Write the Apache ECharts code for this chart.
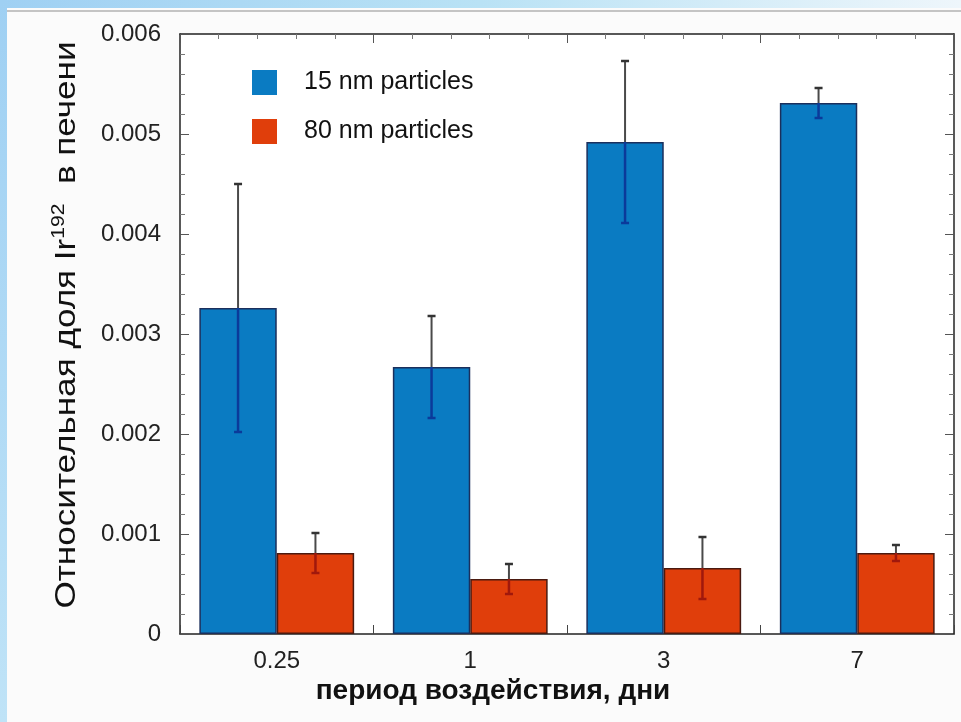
<!DOCTYPE html>
<html>
<head>
<meta charset="utf-8">
<script src="https://cdn.jsdelivr.net/npm/echarts@6/dist/echarts.min.js"></script>
<style>
html,body{margin:0;padding:0;background:#fbfbfb;}
#c{width:961px;height:722px;}
</style>
</head>
<body>
<div id="c"></div>
<script>
const categories = ['0.25', '1', '3', '7'];
const seriesNames = ['15 nm particles', '80 nm particles'];
const values15 = [0.00326, 0.00267, 0.00492, 0.00531];
const errors15 = [0.00124, 0.00051, 0.00081, 0.00015];
const values80 = [0.00081, 0.00055, 0.00066, 0.00081];
const errors80 = [0.00020, 0.00015, 0.00031, 0.00008];
const yTicks = [0, 0.001, 0.002, 0.003, 0.004, 0.005, 0.006];
const yTitle = ['Относительная доля Ir', '192', '  в печени'];
const xTitle = 'период воздействия, дни';

const BLUE = '#0a7bc2';
const RED = '#e03e0b';
const FONT = '"Liberation Sans", Arial, sans-serif';

const errData = [];
values15.forEach((v, i) => errData.push([i, v, v - errors15[i], v + errors15[i], 0]));
values80.forEach((v, i) => errData.push([i, v, v - errors80[i], v + errors80[i], 1]));

const chart = echarts.init(document.getElementById('c'), null, {renderer: 'canvas'});

const axisLabelFmt = v => (v === 0 ? '0' : v.toFixed(3));

const option = {
  backgroundColor: '#fbfbfb',
  animation: false,
  graphic: [
    {type: 'rect', left: 0, top: 0, z: -10, shape: {width: 961, height: 8},
     style: {fill: new echarts.graphic.LinearGradient(0, 0, 1, 0, [
       {offset: 0, color: '#9fd0f3'}, {offset: 0.5, color: '#b9e2f5'}, {offset: 1, color: '#eef6fb'}])}},
    {type: 'rect', left: 0, top: 10, z: -10, shape: {width: 961, height: 2}, style: {fill: '#c4c4c4'}},
    {type: 'rect', left: 0, top: 0, z: -9, shape: {width: 7, height: 722},
     style: {fill: new echarts.graphic.LinearGradient(0, 0, 0, 1, [
       {offset: 0, color: '#9fd0f3'}, {offset: 1, color: '#bfe3f7'}])}},
    {type: 'text', x: 493, y: 691, z: 10,
     style: {text: xTitle, fill: '#111', align: 'center', verticalAlign: 'middle',
             font: 'bold 28px "Liberation Sans", Arial, sans-serif'}},
    {type: 'text', x: 67, y: 325, z: 10, rotation: Math.PI / 2, scaleX: 1.17, scaleY: 1,
     style: {
       text: '{a|' + yTitle[0] + '}{s|' + yTitle[1] + '}{a|' + yTitle[2] + '}',
       align: 'center', verticalAlign: 'middle',
       rich: {
         a: {fontSize: 30, lineHeight: 34, fill: '#111', fontFamily: FONT},
         s: {fontSize: 18, lineHeight: 16, verticalAlign: 'top', fill: '#111', fontFamily: FONT}
       }
     }}
  ],
  grid: {left: 180, right: 7, top: 34, bottom: 88, show: true, backgroundColor: '#ffffff', borderWidth: 0},
  legend: {
    data: seriesNames,
    orient: 'vertical',
    left: 252, top: 70, padding: 0,
    itemWidth: 25, itemHeight: 25, itemGap: 24,
    icon: 'rect',
    itemStyle: {borderWidth: 0},
    textStyle: {fontSize: 25, color: '#111', fontFamily: FONT, padding: [0, 0, 0, 22]}
  },
  xAxis: [
    {
      type: 'category', data: categories, position: 'bottom',
      axisLine: {onZero: false, lineStyle: {color: '#222', width: 1.5}},
      axisTick: {show: true, inside: true, length: 9, lineStyle: {color: '#444', width: 1}},
      axisLabel: {fontSize: 24, color: '#222', margin: 15, fontFamily: FONT},
      splitLine: {show: false}
    },
    {
      type: 'value', min: 0, max: 4, interval: 1, position: 'top',
      axisLine: {show: true, onZero: false, lineStyle: {color: '#222', width: 1.5}},
      axisTick: {show: true, inside: true, length: 9, lineStyle: {color: '#555', width: 1}},
      minorTick: {show: true, splitNumber: 5, length: 5, lineStyle: {color: '#777', width: 1}},
      axisLabel: {show: false},
      splitLine: {show: false}, minorSplitLine: {show: false}
    }
  ],
  yAxis: [
    {
      type: 'value', min: 0, max: 0.006, interval: 0.001, position: 'left',
      axisLine: {show: true, onZero: false, lineStyle: {color: '#222', width: 1.5}},
      axisTick: {show: true, inside: true, length: 9, lineStyle: {color: '#555', width: 1}},
      minorTick: {show: true, splitNumber: 5, length: 5, lineStyle: {color: '#777', width: 1}},
      axisLabel: {fontSize: 24, color: '#222', margin: 19, formatter: axisLabelFmt, fontFamily: FONT},
      splitLine: {show: false}
    },
    {
      type: 'value', min: 0, max: 0.006, interval: 0.001, position: 'right',
      axisLine: {show: true, onZero: false, lineStyle: {color: '#222', width: 1.5}},
      axisTick: {show: true, inside: true, length: 9, lineStyle: {color: '#555', width: 1}},
      minorTick: {show: true, splitNumber: 5, length: 5, lineStyle: {color: '#777', width: 1}},
      axisLabel: {show: false},
      splitLine: {show: false}
    }
  ],
  series: [
    {
      name: seriesNames[0], type: 'bar', data: values15, xAxisIndex: 0, yAxisIndex: 0,
      barWidth: '40%', barGap: '0%',
      itemStyle: {color: BLUE, borderColor: '#1b2f5c', borderWidth: 1.5}
    },
    {
      name: seriesNames[1], type: 'bar', data: values80, xAxisIndex: 0, yAxisIndex: 0,
      barWidth: '40%', barGap: '0%',
      itemStyle: {color: RED, borderColor: '#4a1a10', borderWidth: 1.5}
    },
    {
      type: 'custom', name: 'errors', xAxisIndex: 0, yAxisIndex: 0, z: 5,
      data: errData,
      encode: {x: 0, y: [2, 3]},
      renderItem: function (params, api) {
        const idx = api.value(0);
        const mean = api.value(1);
        const lo = api.value(2);
        const hi = api.value(3);
        const s = api.value(4);
        const band = api.size([1, 0])[0];
        const cx = api.coord([idx, 0])[0] + (s === 0 ? -0.2 : 0.2) * band;
        const yMean = api.coord([idx, mean])[1];
        const yLo = api.coord([idx, lo])[1];
        const yHi = api.coord([idx, hi])[1];
        const inner = s === 0 ? '#0b3a9a' : '#a0180c';
        const cap = 4;
        return {
          type: 'group',
          children: [
            {type: 'line', shape: {x1: cx, y1: yHi, x2: cx, y2: yMean}, style: {stroke: '#4a4a4a', lineWidth: 2}},
            {type: 'line', shape: {x1: cx, y1: yMean, x2: cx, y2: yLo}, style: {stroke: inner, lineWidth: 2.5}},
            {type: 'line', shape: {x1: cx - cap, y1: yHi, x2: cx + cap, y2: yHi}, style: {stroke: '#333', lineWidth: 2.5}},
            {type: 'line', shape: {x1: cx - cap, y1: yLo, x2: cx + cap, y2: yLo}, style: {stroke: inner, lineWidth: 2.5}}
          ]
        };
      }
    }
  ]
};
chart.setOption(option);
</script>
</body>
</html>
